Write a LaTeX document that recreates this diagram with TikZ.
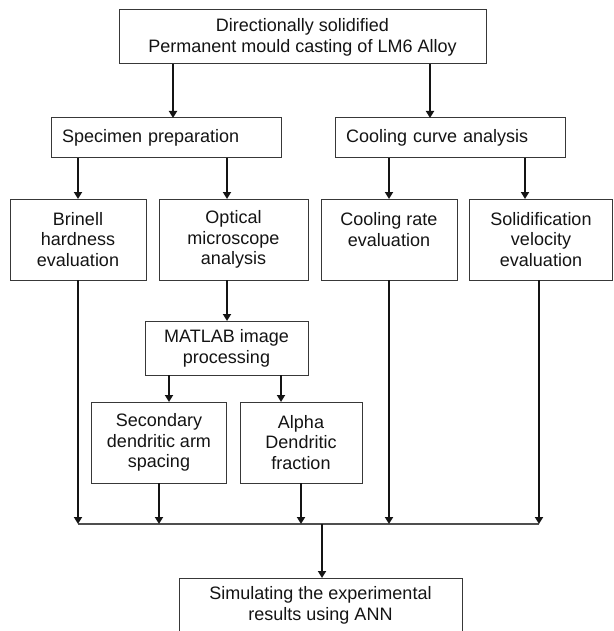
\documentclass[tikz,border=0pt]{standalone}
\usepackage{fontspec}
\setmainfont{Liberation Sans}
\usetikzlibrary{arrows.meta}
\definecolor{ink}{HTML}{141414}
\definecolor{frame}{HTML}{383838}
\tikzset{
  box/.style={draw=frame, line width=1pt, fill=white, align=center,
    inner sep=2pt, outer sep=0pt, text=ink},
  lbox/.style={box, align=left, text width=208pt, inner xsep=11pt, minimum height=40pt},
  tall/.style={box, minimum height=81pt},
  arr/.style={-{Triangle[length=7pt,width=8pt]}, line width=1.8pt, color=ink},
  bus/.style={line width=1.2pt, color=ink!75},
}

\begin{document}
\begin{tikzpicture}[x=1pt, y=-1pt, font=\fontsize{18pt}{20.7pt}\selectfont]
    \useasboundingbox (0,0) rectangle (613,631);
    \node[box, minimum width=367pt, minimum height=54pt] (cast) at (302.5,37) {Directionally solidified\\Permanent mould casting of LM6 Alloy};
    \node[lbox] (spec) at (166,138) {Specimen preparation};
    \node[lbox] (cool) at (450,138) {Cooling curve analysis};
    \node[tall, minimum width=136pt] (brinell) at (78,239.5) {Brinell\\hardness\\evaluation};
    \node[tall, minimum width=149pt] (optical) at (233.5,239.5) {Optical\\microscope\\analysis};
    \node[tall, minimum width=136pt] (rate) at (389,239.5) {Cooling rate\\evaluation\\\mbox{}};
    \node[tall, minimum width=143pt] (velo) at (541,239.5) {Solidification\\velocity\\evaluation};
    \node[box, minimum width=163pt, minimum height=54pt] (matlab) at (226.5,348) {MATLAB image\\processing};
    \node[tall, minimum width=135.5pt] (sdas) at (159,442.5) {Secondary\\dendritic arm\\spacing};
    \node[tall, minimum width=122pt] (alpha) at (301,442.5) {Alpha\\Dendritic\\fraction};
    \node[box, minimum width=283pt, minimum height=54pt] (sim) at (320.5,605) {Simulating the experimental\\results using ANN};
    \foreach \a/\b/\x in {cast/spec/173, cast/cool/430, spec/brinell/78, spec/optical/227,
      cool/rate/389, cool/velo/525, optical/matlab/227, matlab/sdas/169, matlab/alpha/281}
      \draw[arr] (\a.south -| \x,0) -- (\b.north -| \x,0);
    % collecting line
    \coordinate (busL) at (78,524);
    \coordinate (busR) at (539,524);
    \draw[bus] (busL) -- (busR);
    \foreach \n/\x in {brinell/78, sdas/159, alpha/301, rate/389, velo/539}
      \draw[arr] (\n.south -| \x,0) -- (busL -| \x,0);
    \draw[arr] (busL -| 322,0) -- (sim.north -| 322,0);
\end{tikzpicture}
\end{document}
